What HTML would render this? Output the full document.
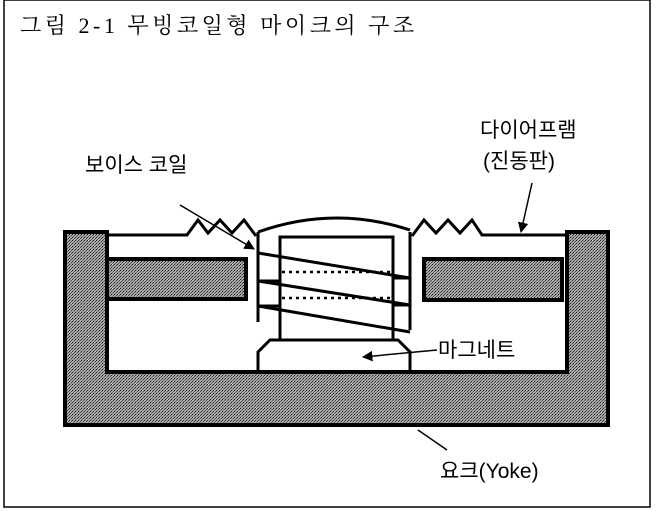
<!DOCTYPE html>
<html><head><meta charset="utf-8"><style>
body{margin:0;background:#fff;width:659px;height:526px;overflow:hidden}
svg{display:block}
text{font-family:"Liberation Sans","Noto Sans CJK KR",sans-serif;fill:#000}
</style></head><body>
<svg width="659" height="526" viewBox="0 0 659 526">
<defs>
<pattern id="h" width="3" height="3" patternUnits="userSpaceOnUse">
<rect width="3" height="3" fill="#a8a8a8"/>
<rect width="1" height="1" fill="#222"/>
<rect x="2" y="1" width="1" height="1" fill="#444"/>
<rect x="1" y="2" width="1" height="1" fill="#666"/>
</pattern>
<marker id="a" viewBox="0 0 10 10" refX="9" refY="5" markerWidth="7" markerHeight="7" orient="auto"><path d="M0,0L10,5L0,10z" fill="#000"/></marker>
</defs>
<rect x="4" y="0" width="646" height="507" fill="none" stroke="#000" stroke-width="1.5"/>
<text x="20" y="33" font-size="22" letter-spacing="3.5" style="font-family:'Liberation Serif','Noto Serif CJK SC',serif">그림 2-1 무빙코일형 마이크의 구조</text>

<!-- yoke -->
<path d="M65,232H107V372H567V232H608V425H65Z" fill="url(#h)" stroke="#000" stroke-width="4"/>
<rect x="107" y="259" width="139" height="40" fill="url(#h)" stroke="#000" stroke-width="4"/>
<rect x="424" y="259" width="138" height="41" fill="url(#h)" stroke="#000" stroke-width="4"/>

<!-- diaphragm -->
<polyline points="107,235 187,235 198,220 208,233 220,220 232,233 244,220 256,236" fill="none" stroke="#000" stroke-width="3"/>
<path d="M258,232Q334,205 410,230" fill="none" stroke="#000" stroke-width="3"/>
<polyline points="412,236 424,220 436,233 448,220 460,233 472,220 482,235 567,235" fill="none" stroke="#000" stroke-width="3"/>

<!-- bobbin -->
<line x1="258" y1="232" x2="258" y2="322" stroke="#000" stroke-width="3"/>
<line x1="410" y1="232" x2="410" y2="330" stroke="#000" stroke-width="3"/>
<!-- magnet -->
<path d="M280,340V237H393V340" fill="none" stroke="#000" stroke-width="3"/>
<path d="M258,372V352L270,340H398L410,352V372" fill="none" stroke="#000" stroke-width="3"/>
<!-- coil -->
<g stroke="#000" stroke-width="3" fill="none">
<line x1="258" y1="253" x2="410" y2="278"/>
<line x1="258" y1="281" x2="410" y2="305"/>
<line x1="258" y1="306" x2="410" y2="332"/>
<line x1="258" y1="281" x2="280" y2="281"/>
<line x1="258" y1="306" x2="280" y2="306"/>
<line x1="393" y1="278" x2="410" y2="278"/>
<line x1="393" y1="305" x2="410" y2="305"/>
</g>
<g stroke="#000" stroke-width="2.5" stroke-dasharray="3,4">
<line x1="282" y1="272" x2="392" y2="272"/>
<line x1="282" y1="298" x2="392" y2="298"/>
</g>

<!-- labels -->
<text x="85" y="172" font-size="21">보이스 코일</text>
<line x1="180" y1="205" x2="254" y2="249" stroke="#000" stroke-width="1.5" marker-end="url(#a)"/>
<text x="480" y="137" font-size="21">다이어프램</text>
<text x="483" y="168" font-size="21">(진동판)</text>
<line x1="532" y1="183" x2="521" y2="232" stroke="#000" stroke-width="1.5" marker-end="url(#a)"/>
<text x="438" y="357" font-size="21">마그네트</text>
<line x1="437" y1="350" x2="363" y2="357" stroke="#000" stroke-width="1.5" marker-end="url(#a)"/>
<line x1="418" y1="430" x2="447" y2="450" stroke="#000" stroke-width="1.5"/>
<text x="440" y="478" font-size="21">요크(Yoke)</text>
</svg>
</body></html>
